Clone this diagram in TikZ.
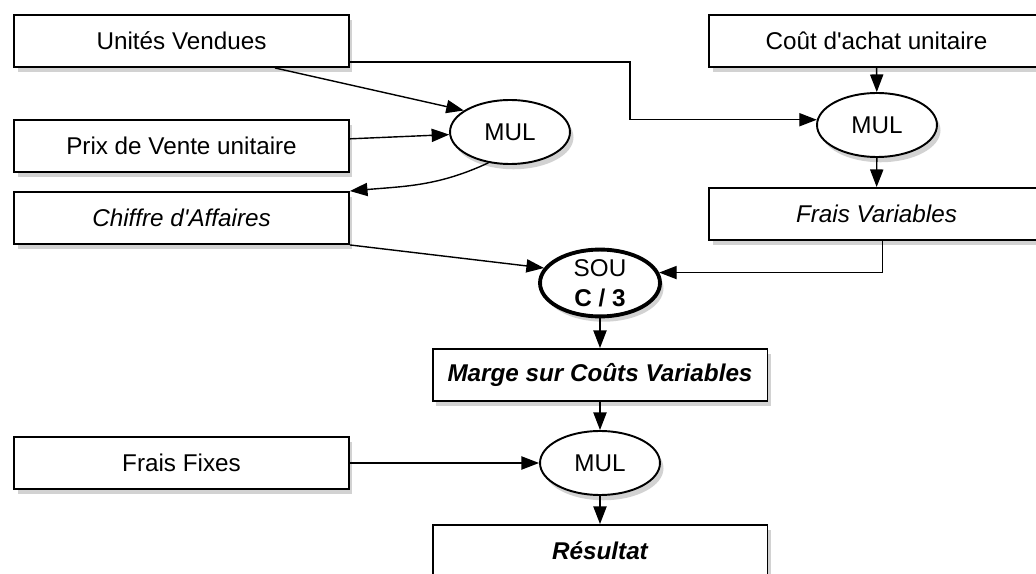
\documentclass[tikz,border=0pt]{standalone}
\usepackage{fontspec}
\setmainfont{Liberation Sans}
\usetikzlibrary{shapes.geometric,arrows.meta,shadows}

\begin{document}
\begin{tikzpicture}[x=0.02cm, y=-0.02cm,
	box/.style={draw, line width=1.1pt, fill=white, minimum width=6.7cm, minimum height=1.04cm,
		drop shadow={shadow xshift=2pt, shadow yshift=-3pt, opacity=.35}, font=\fontsize{13.8}{15}\selectfont},
	op/.style={draw, ellipse, line width=1.1pt, fill=white, minimum width=2.4cm, minimum height=1.28cm, inner sep=0pt,
		drop shadow={shadow xshift=2pt, shadow yshift=-3pt, opacity=.35}, font=\fontsize{13.8}{15}\selectfont, align=center},
	fl/.style={line width=.8pt, -{Triangle[length=10pt,width=7.5pt]}}]
	\clip (0,0) rectangle (1036,574);
	\fill[white] (0,0) rectangle (1036,574);
	
	\node[box] (uv) at (181.5,41){Unités Vendues};
	\node[box] (pv) at (181.5,146){Prix de Vente unitaire};
	\node[box] (ca) at (181.5,218){\itshape Chiffre d\textquotesingle Affaires};
	\node[box] (cu) at (876.5,41){Coût d\textquotesingle achat unitaire};
	\node[box] (fv) at (876.5,214){\itshape Frais Variables};
	\node[box] (mcv) at (600,375){\bfseries\itshape Marge sur Coûts Variables};
	\node[box] (ff) at (181.5,463){Frais Fixes};
	\node[box] (res) at (600,551){\bfseries\itshape Résultat};
	
	\node[op] (mula) at (510,132){MUL};
	\node[op] (mulb) at (877,125){MUL};
	\node[op, line width=2.2pt] (sou) at (600,283){SOU\\[2pt] \textbf{C / 3}};
	\node[op] (mulc) at (600,463){MUL};
	
	\coordinate (knee) at (630,62);
	\draw[fl] ([xshift=1.87cm]uv.south) -- (mula.155);
	\draw[fl] (uv.east |- knee) -- (knee) |- (mulb.175);
	\draw[fl] (pv) -- (mula);
	\draw[fl] (mula.235) to[out=205, in=5] (ca.north east);
	\draw[fl] (cu) -- (mulb);
	\draw[fl] (mulb) -- (fv);
	\draw[fl] (ca.south east) -- (sou.165);
	\draw[fl] ([xshift=0.12cm]fv.south) |- (sou.10);
	\draw[fl] (sou) -- (mcv);
	\draw[fl] (mcv) -- (mulc);
	\draw[fl] (ff) -- (mulc);
	\draw[fl] (mulc) -- (res);
\end{tikzpicture}
\end{document}
